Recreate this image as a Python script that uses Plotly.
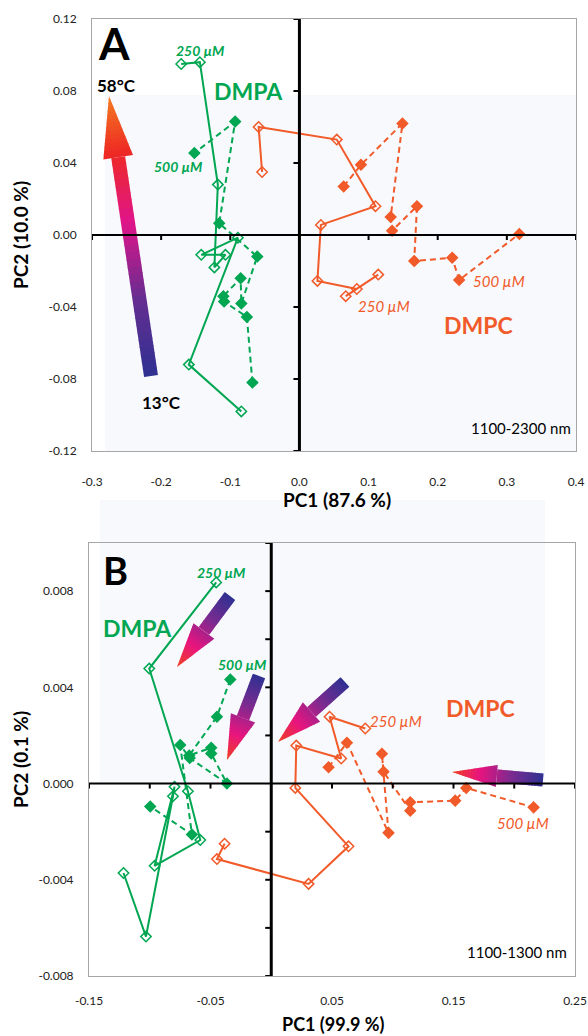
import math
import plotly.graph_objects as go

W, H = 588, 1036
GREEN = "#00a651"
ORANGE = "#f15a29"

# ---------------- data ----------------
# Panel A (1100-2300 nm)
A_DMPA_250_x = [-0.084, -0.160, -0.089, -0.142, -0.107, -0.123, -0.118, -0.144, -0.171]
A_DMPA_250_y = [-0.098, -0.072, -0.0015, -0.011, -0.011, -0.018, 0.028, 0.096, 0.095]
A_DMPA_500_x = [-0.068, -0.076, -0.109, -0.110, -0.085, -0.084, -0.061, -0.116, -0.093, -0.152]
A_DMPA_500_y = [-0.082, -0.0455, -0.037, -0.034, -0.024, -0.038, -0.012, 0.0065, 0.063, 0.0455]
A_DMPC_250_x = [-0.054, -0.059, 0.054, 0.110, 0.031, 0.026, 0.083, 0.067, 0.114]
A_DMPC_250_y = [0.035, 0.060, 0.053, 0.016, 0.0056, -0.0255, -0.030, -0.034, -0.022]
A_DMPC_500_x = [0.064, 0.089, 0.149, 0.132, 0.134, 0.170, 0.166, 0.221, 0.231, 0.318]
A_DMPC_500_y = [0.027, 0.039, 0.062, 0.010, 0.0024, 0.016, -0.0145, -0.0126, -0.025, 0.0006]

# Panel B (1100-1300 nm)
B_DMPA_250_x = [-0.0453, -0.1004, -0.0686, -0.0584, -0.0960, -0.0796, -0.0809, -0.1031, -0.1216]
B_DMPA_250_y = [0.00836, 0.00478, -0.00032, -0.00235, -0.00342, -0.00013, -0.00053, -0.00636, -0.00372]
B_DMPA_500_x = [-0.0337, -0.0447, -0.0675, -0.0494, -0.0494, -0.0365, -0.0671, -0.0749, -0.0653, -0.0996]
B_DMPA_500_y = [0.00433, 0.00278, 0.00117, 0.00149, 0.00125, 0.0, 0.00106, 0.00160, -0.00212, -0.00095]
B_DMPC_250_x = [0.0774, 0.0480, 0.0576, 0.0206, 0.0198, 0.0636, 0.0307, -0.0447, -0.0384]
B_DMPC_250_y = [0.00229, 0.00278, 0.00104, 0.00158, -0.00018, -0.00261, -0.00417, -0.00314, -0.0025]
B_DMPC_500_x = [0.0472, 0.0623, 0.0965, 0.0911, 0.0924, 0.1144, 0.1144, 0.1514, 0.1605, 0.2159]
B_DMPC_500_y = [0.00068, 0.00170, -0.00205, 0.00124, 0.00049, -0.00113, -0.00078, -0.00071, -0.00018, -0.00099]

A_xticks = [-0.3, -0.2, -0.1, 0.0, 0.1, 0.2, 0.3, 0.4]
A_xticklabels = ["-0.3", "-0.2", "-0.1", "0.0", "0.1", "0.2", "0.3", "0.4"]
A_yticks = [-0.12, -0.08, -0.04, 0.0, 0.04, 0.08, 0.12]
A_yticklabels = ["-0.12", "-0.08", "-0.04", "0.00", "0.04", "0.08", "0.12"]
B_xticks = [-0.15, -0.05, 0.05, 0.15, 0.25]
B_xticklabels = ["-0.15", "-0.05", "0.05", "0.15", "0.25"]
B_yticks = [-0.008, -0.004, 0.0, 0.004, 0.008]
B_yticklabels = ["-0.008", "-0.004", "0.000", "0.004", "0.008"]

# ---------------- layout geometry (pixels) ----------------
A_box = dict(l=92, r=576, t=19, b=451, xr=[-0.3, 0.4], yr=[-0.12, 0.12])
B_box = dict(l=89, r=575, t=543, b=976, xr=[-0.15, 0.25], yr=[-0.008, 0.010])


def px(x, y):
    return x / W, 1 - y / H


fig = go.Figure()


def add_series(x, y, color, filled, dashed, xa, ya):
    fig.add_trace(go.Scatter(
        x=x, y=y, mode="lines+markers", xaxis=xa, yaxis=ya, showlegend=False,
        line=dict(color=color, width=2, dash="6px,4px" if dashed else "solid"),
        marker=dict(symbol="diamond" if filled else "diamond-open", size=8,
                    color=color, line=dict(color=color, width=1.5)),
    ))


add_series(A_DMPA_250_x, A_DMPA_250_y, GREEN, False, False, "x", "y")
add_series(A_DMPA_500_x, A_DMPA_500_y, GREEN, True, True, "x", "y")
add_series(A_DMPC_250_x, A_DMPC_250_y, ORANGE, False, False, "x", "y")
add_series(A_DMPC_500_x, A_DMPC_500_y, ORANGE, True, True, "x", "y")
add_series(B_DMPA_250_x, B_DMPA_250_y, GREEN, False, False, "x2", "y2")
add_series(B_DMPA_500_x, B_DMPA_500_y, GREEN, True, True, "x2", "y2")
add_series(B_DMPC_250_x, B_DMPC_250_y, ORANGE, False, False, "x2", "y2")
add_series(B_DMPC_500_x, B_DMPC_500_y, ORANGE, True, True, "x2", "y2")

shapes = []

# faint background patches (image backdrop in the original)
for (x0, y0, x1, y1) in [(105, 95, 576, 451), (100, 500, 545, 783)]:
    a0 = px(x0, y0); a1 = px(x1, y1)
    shapes.append(dict(type="rect", xref="paper", yref="paper", x0=a0[0], y0=a1[1], x1=a1[0], y1=a0[1],
                       fillcolor="#f8f9fd", line=dict(width=0), layer="below"))


def hex2rgb(h):
    h = h.lstrip("#")
    return tuple(int(h[i:i + 2], 16) for i in (0, 2, 4))


def interp(stops, t):
    for i in range(len(stops) - 1):
        t0, c0 = stops[i]
        t1, c1 = stops[i + 1]
        if t <= t1:
            f = (t - t0) / (t1 - t0) if t1 > t0 else 0
            a, b = hex2rgb(c0), hex2rgb(c1)
            return "rgb(%d,%d,%d)" % tuple(round(a[k] + (b[k] - a[k]) * f) for k in range(3))
    return stops[-1][1]


def gradient_arrow(tail, tip, sw, hw, hl, stops, n1=30, n2=16):
    tx, ty = tail
    qx, qy = tip
    L = math.hypot(qx - tx, qy - ty)
    ux, uy = (qx - tx) / L, (qy - ty) / L
    nx, ny = -uy, ux
    sb = L - hl
    segs = []
    for i in range(n1):
        s0 = sb * i / n1
        s1 = min(sb * (i + 1) / n1 + 0.8, sb)
        segs.append((s0, s1, sw, sw))
    for i in range(n2):
        s0 = sb + hl * i / n2
        s1 = min(sb + hl * (i + 1) / n2 + 0.8, L)
        w0 = hw * (1 - (s0 - sb) / hl)
        w1 = hw * (1 - (s1 - sb) / hl)
        segs.append((s0, s1, w0, w1))
    out = []
    for s0, s1, w0, w1 in segs:
        c0 = (tx + ux * s0, ty + uy * s0)
        c1 = (tx + ux * s1, ty + uy * s1)
        pts = [(c0[0] + nx * w0, c0[1] + ny * w0), (c1[0] + nx * w1, c1[1] + ny * w1),
               (c1[0] - nx * w1, c1[1] - ny * w1), (c0[0] - nx * w0, c0[1] - ny * w0)]
        pp = [px(a, b) for a, b in pts]
        path = "M %f %f " % pp[0] + " ".join("L %f %f" % p for p in pp[1:]) + " Z"
        col = interp(stops, ((s0 + s1) / 2) / L)
        out.append(dict(type="path", xref="paper", yref="paper", path=path, fillcolor=col,
                        line=dict(width=0), layer="below"))
    return out


STOPS_A = [(0, "#2e3192"), (0.28, "#662d91"), (0.55, "#e0148a"), (0.8, "#ee2a24"), (1, "#f47c20")]
STOPS_B = [(0, "#2e3192"), (0.35, "#7a2b90"), (0.7, "#e8147f"), (1, "#f0401f")]
shapes += gradient_arrow((151, 376), (109, 96), 7, 15, 62, STOPS_A)
shapes += gradient_arrow((230, 596), (177, 667), 6.5, 13, 45, STOPS_B)
shapes += gradient_arrow((259, 676), (227, 760), 6.5, 13, 45, STOPS_B)
shapes += gradient_arrow((345, 682), (278, 742), 6.5, 13, 45, STOPS_B)
shapes += gradient_arrow((543, 780), (452, 772), 6.5, 11, 45, STOPS_B)


# zero axes with ticks (crossing at 0)
def zero_axes(box, xa, ya, xstep_vals, ystep_vals):
    xr, yr = box["xr"], box["yr"]
    ppx = (box["r"] - box["l"]) / (xr[1] - xr[0])
    ppy = (box["b"] - box["t"]) / (yr[1] - yr[0])
    shapes.append(dict(type="line", xref=xa, yref=ya, x0=0, x1=0, y0=yr[0], y1=yr[1],
                       line=dict(color="black", width=3)))
    shapes.append(dict(type="line", xref=xa, yref=ya, x0=xr[0], x1=xr[1], y0=0, y1=0,
                       line=dict(color="black", width=2)))
    for v in ystep_vals:
        shapes.append(dict(type="line", xref=xa, yref=ya, x0=-6 / ppx, x1=0, y0=v, y1=v,
                           line=dict(color="black", width=2)))
    for v in xstep_vals:
        shapes.append(dict(type="line", xref=xa, yref=ya, x0=v, x1=v, y0=-5 / ppy, y1=0,
                           line=dict(color="black", width=2)))


A_zero_xticks = [-0.3, -0.2, -0.1, 0.1, 0.2, 0.3, 0.4]
A_zero_yticks = [-0.12, -0.08, -0.04, 0.04, 0.08, 0.12]
B_zero_xticks = [-0.15, -0.1, -0.05, 0.05, 0.1, 0.15, 0.2, 0.25]
B_zero_yticks = [-0.008, -0.006, -0.004, -0.002, 0.002, 0.004, 0.006, 0.008, 0.010]
zero_axes(A_box, "x", "y", A_zero_xticks, A_zero_yticks)
zero_axes(B_box, "x2", "y2", B_zero_xticks, B_zero_yticks)

# ---------------- annotations ----------------
FONT = "Lato"
ann = []


def label(text, x, y, size, color="black", bold=False, italic=False, angle=0):
    t = text
    if italic:
        t = "<i>" + t + "</i>"
    if bold:
        t = "<b>" + t + "</b>"
    p = px(x, y)
    ann.append(dict(text=t, x=p[0], y=p[1], xref="paper", yref="paper", showarrow=False,
                    xanchor="center", yanchor="middle", textangle=angle,
                    font=dict(family=FONT, size=size, color=color)))


label("A", 114, 43, 44, bold=True)
label("58°C", 116, 85, 17, bold=True)
label("13°C", 161, 403, 17, bold=True)
label("DMPA", 248, 91, 23, GREEN, bold=True)
label("250 µM", 200, 50, 14, GREEN, bold=True, italic=True)
label("500 µM", 178, 167, 14, GREEN, bold=True, italic=True)
label("DMPC", 478, 325, 23, ORANGE, bold=True)
label("250 µM", 384, 306, 15, ORANGE, italic=True)
label("500 µM", 499, 281, 15, ORANGE, italic=True)
label("1100-2300 nm", 521, 428, 15)
label("PC1 (87.6 %)", 337, 500, 19, bold=True)
label("PC2 (10.0 %)", 20, 235, 19, bold=True, angle=-90)

label("B", 115, 570, 38, bold=True)
label("DMPA", 137, 628, 23, GREEN, bold=True)
label("250 µM", 221, 572, 14, GREEN, bold=True, italic=True)
label("500 µM", 242, 664, 14, GREEN, bold=True, italic=True)
label("DMPC", 480, 708, 23, ORANGE, bold=True)
label("250 µM", 396, 721, 15, ORANGE, italic=True)
label("500 µM", 523, 823, 15, ORANGE, italic=True)
label("1100-1300 nm", 517, 952, 15)
label("PC1 (99.9 %)", 333, 1024, 18, bold=True)
label("PC2 (0.1 %)", 20, 760, 19, bold=True, angle=-90)


def axis(box, horizontal, tickvals, ticktext, standoff):
    if horizontal:
        dom = [box["l"] / W, box["r"] / W]
        rng = box["xr"]
    else:
        dom = [1 - box["b"] / H, 1 - box["t"] / H]
        rng = box["yr"]
    return dict(domain=dom, range=rng, tickvals=tickvals, ticktext=ticktext, showgrid=False,
                zeroline=False, showline=True, linecolor="#a6a6a6", linewidth=1, mirror=True,
                ticks="", ticklabelstandoff=standoff, automargin=False,
                tickfont=dict(family=FONT, size=12, color="#222222"), fixedrange=True)


fig.update_layout(
    width=W, height=H, margin=dict(l=0, r=0, t=0, b=0, autoexpand=False),
    paper_bgcolor="white", plot_bgcolor="rgba(0,0,0,0)",
    xaxis=dict(axis(A_box, True, A_xticks, A_xticklabels, 20), anchor="y"),
    yaxis=dict(axis(A_box, False, A_yticks, A_yticklabels, 12), anchor="x"),
    xaxis2=dict(axis(B_box, True, B_xticks, B_xticklabels, 14), anchor="y2"),
    yaxis2=dict(axis(B_box, False, B_yticks, B_yticklabels, 12), anchor="x2"),
    shapes=shapes, annotations=ann, showlegend=False,
)

fig.write_html("out.html")
